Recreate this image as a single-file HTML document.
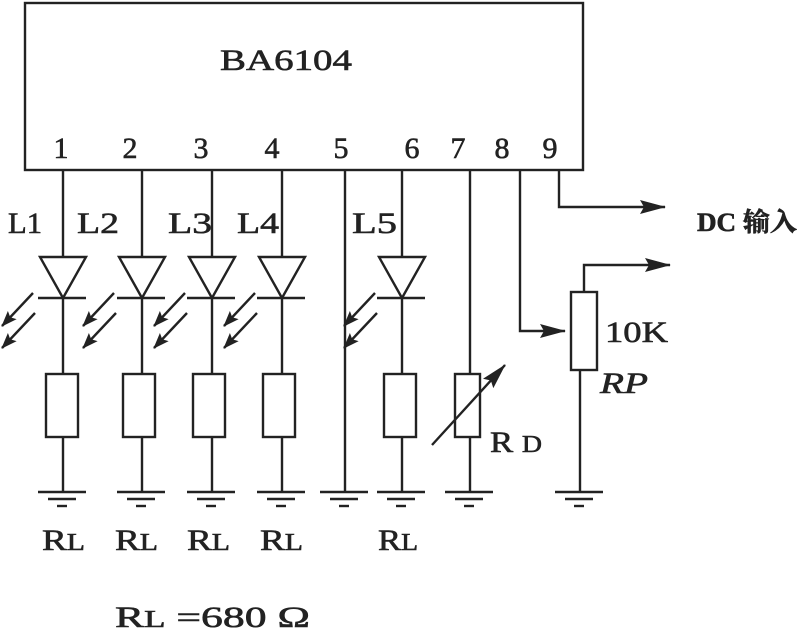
<!DOCTYPE html>
<html><head><meta charset="utf-8"><style>
html,body{margin:0;padding:0;background:#fff;}
svg{display:block}
text{font-family:"Liberation Serif","Noto Serif CJK SC",serif;fill:#222;stroke:#222;stroke-width:0.6}
</style></head><body>
<svg width="797" height="632" viewBox="0 0 797 632" xmlns="http://www.w3.org/2000/svg">
<defs>
<marker id="ah" markerWidth="16" markerHeight="12" refX="15" refY="6" orient="auto" markerUnits="userSpaceOnUse"><path d="M0,0 L16,6 L0,12 L3,6 Z" fill="#222"/></marker>
<marker id="ahb" markerWidth="26" markerHeight="14" refX="25" refY="7" orient="auto" markerUnits="userSpaceOnUse"><path d="M0,0 L26,7 L0,14 L4,7 Z" fill="#222"/></marker>
</defs>
<g stroke="#222" stroke-width="2.4" fill="none">
<rect x="25" y="3" width="558" height="167"/>
<line x1="63" y1="170" x2="63" y2="492"/>
<line x1="142" y1="170" x2="142" y2="492"/>
<line x1="212" y1="170" x2="212" y2="492"/>
<line x1="282" y1="170" x2="282" y2="492"/>
<line x1="345" y1="170" x2="345" y2="492"/>
<line x1="402" y1="170" x2="402" y2="492"/>
<line x1="470" y1="170" x2="470" y2="492"/>
<polyline points="520,170 520,331 565,331" marker-end="url(#ahb)"/>
<polyline points="559,170 559,207 665,207" marker-end="url(#ahb)"/>
<polyline points="584,292 584,265 670,265" marker-end="url(#ahb)"/>
<line x1="580" y1="370" x2="580" y2="492"/>
<rect x="571" y="292" width="26" height="78" fill="#fff"/>
</g>
<g stroke="#222" stroke-width="2.4" fill="#fff">
<g id="d"><path d="M40,257 L86,257 L63,298 Z"/><line x1="38" y1="298" x2="86" y2="298"/></g>
<use href="#d" x="79"/><use href="#d" x="149"/><use href="#d" x="219"/><use href="#d" x="339"/>
<rect x="46" y="374" width="32" height="63"/>
<rect x="123" y="374" width="32" height="63"/>
<rect x="193" y="374" width="32" height="63"/>
<rect x="263" y="374" width="32" height="63"/>
<rect x="384" y="374" width="32" height="63"/>
<rect x="455" y="374" width="25" height="63"/>
</g>
<g stroke="#222" stroke-width="2.4">
<line x1="432" y1="445" x2="505" y2="365" marker-end="url(#ahb)"/>
<g id="a"><line x1="33" y1="293" x2="2" y2="326" marker-end="url(#ah)"/><line x1="35" y1="313" x2="2" y2="348" marker-end="url(#ah)"/></g>
<use href="#a" x="81"/><use href="#a" x="152"/><use href="#a" x="222"/><use href="#a" x="342"/>
<g id="g"><line x1="38" y1="492" x2="86" y2="492"/><line x1="48" y1="499" x2="76" y2="499"/><line x1="57" y1="506" x2="67" y2="506"/></g>
<use href="#g" x="79"/><use href="#g" x="149"/><use href="#g" x="219"/><use href="#g" x="282"/><use href="#g" x="339"/><use href="#g" x="407"/><use href="#g" x="517"/>
</g>
<g font-size="30">
<text x="220" y="70" textLength="132" lengthAdjust="spacingAndGlyphs">BA6104</text>
<text x="61" y="158" text-anchor="middle">1</text>
<text x="130" y="158" text-anchor="middle">2</text>
<text x="201" y="158" text-anchor="middle">3</text>
<text x="272" y="158" text-anchor="middle">4</text>
<text x="341" y="158" text-anchor="middle">5</text>
<text x="412" y="158" text-anchor="middle">6</text>
<text x="458" y="158" text-anchor="middle">7</text>
<text x="502" y="158" text-anchor="middle">8</text>
<text x="550" y="158" text-anchor="middle">9</text>
<text x="8" y="233" textLength="34" lengthAdjust="spacingAndGlyphs">L1</text>
<text x="77" y="233" textLength="42" lengthAdjust="spacingAndGlyphs">L2</text>
<text x="168" y="233" textLength="44" lengthAdjust="spacingAndGlyphs">L3</text>
<text x="237" y="233" textLength="42" lengthAdjust="spacingAndGlyphs">L4</text>
<text x="352" y="233" textLength="45" lengthAdjust="spacingAndGlyphs">L5</text>
<text x="605" y="342" textLength="63" lengthAdjust="spacingAndGlyphs">10K</text>
<text x="600" y="393" font-style="italic" textLength="48" lengthAdjust="spacingAndGlyphs">RP</text>
<text x="490" y="452" textLength="52" lengthAdjust="spacingAndGlyphs">R <tspan font-size="24">D</tspan></text>
<text x="42" y="550" textLength="43" lengthAdjust="spacingAndGlyphs">R<tspan font-size="24">L</tspan></text>
<text x="115" y="550" textLength="43" lengthAdjust="spacingAndGlyphs">R<tspan font-size="24">L</tspan></text>
<text x="187" y="550" textLength="43" lengthAdjust="spacingAndGlyphs">R<tspan font-size="24">L</tspan></text>
<text x="260" y="550" textLength="43" lengthAdjust="spacingAndGlyphs">R<tspan font-size="24">L</tspan></text>
<text x="378" y="550" textLength="40" lengthAdjust="spacingAndGlyphs">R<tspan font-size="24">L</tspan></text>
<text x="115" y="627" textLength="195" lengthAdjust="spacingAndGlyphs">R<tspan font-size="24">L</tspan> =680 Ω</text>
</g>
<text x="697" y="231" font-size="26" font-weight="bold" textLength="100" lengthAdjust="spacingAndGlyphs">DC 输入</text>
</svg>
</body></html>
